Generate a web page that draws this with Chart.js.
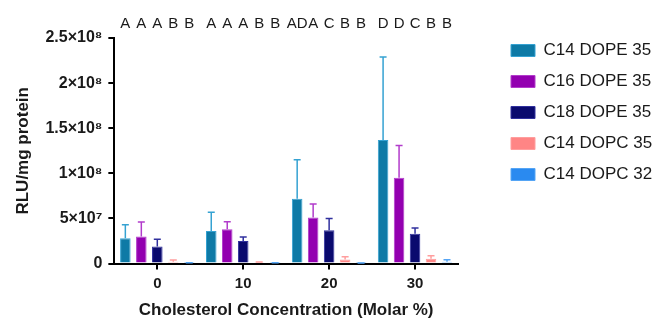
<!DOCTYPE html>
<html>
<head>
<meta charset="utf-8">
<script src="https://cdn.jsdelivr.net/npm/chart.js@4"></script>
<style>
  html, body { margin: 0; padding: 0; background: #fff; }
  #wrap { width: 669px; height: 325px; }
</style>
</head>
<body>
<div id="wrap"><canvas id="myChart" width="669" height="325"></canvas></div>
<script>
'use strict';

// data
let categories = ['0', '10', '20', '30'];
let seriesNames = ['C14 DOPE 35', 'C16 DOPE 35', 'C18 DOPE 35', 'C14 DOPC 35', 'C14 DOPC 32'];
let c14dope35 = [2.8e7, 3.6e7, 7.2e7, 1.37e8];
let c16dope35 = [3.0e7, 3.8e7, 5.1e7, 9.5e7];
let c18dope35 = [1.9e7, 2.5e7, 3.7e7, 3.3e7];
let c14dopc35 = [2.0e6, 1.0e6, 4.5e6, 5.5e6];
let c14dopc32 = [0.6e6, 0.5e6, 0.3e6, 2.0e6];
// upper end of error bars
let c14dope35Err = [4.3e7, 5.7e7, 1.15e8, 2.29e8];
let c16dope35Err = [4.6e7, 4.65e7, 6.6e7, 1.31e8];
let c18dope35Err = [2.7e7, 2.95e7, 5.0e7, 3.95e7];
let c14dopc35Err = [4.0e6, 1.8e6, 7.5e6, 8.8e6];
let c14dopc32Err = [1.0e6, 0.9e6, 0.6e6, 4.2e6];
// significance letters per category, one per series
let letters = [
  ['A', 'A', 'A', 'B', 'B'],
  ['A', 'A', 'A', 'B', 'B'],
  ['AD', 'A', 'C', 'B', 'B'],
  ['D', 'D', 'C', 'B', 'B']
];
let yTicks = [0, 5e7, 1e8, 1.5e8, 2e8, 2.5e8];
let yTickLabels = ['0', '5\u00d710\u2077', '1\u00d710\u2078', '1.5\u00d710\u2078', '2\u00d710\u2078', '2.5\u00d710\u2078'];

let fillColors = ['#0e7aa6', '#9300b0', '#0a0a6e', '#ff8585', '#2a8af0'];
let edgeColors = ['#35a2d2', '#b23ccb', '#30309e', '#ff9e9e', '#55a5f5'];
let allValues = [c14dope35, c16dope35, c18dope35, c14dopc35, c14dopc32];
let allErrors = [c14dope35Err, c16dope35Err, c18dope35Err, c14dopc35Err, c14dopc32Err];

let fontFamily = '"Liberation Sans", Arial, sans-serif';
Chart.defaults.font.family = fontFamily;
Chart.defaults.color = '#1a1a1a';

let datasets = [];
for (let i = 0; i < seriesNames.length; i++) {
  datasets.push({
    label: seriesNames[i],
    data: allValues[i],
    backgroundColor: fillColors[i],
    borderColor: edgeColors[i],
    borderWidth: 1,
    categoryPercentage: 0.93,
    barPercentage: 0.66
  });
}

// error bars drawn from the error arrays through the y scale
let errorBars = {
  id: 'errorBars',
  afterDatasetsDraw(chart) {
    let ctx = chart.ctx;
    let yScale = chart.scales.y;
    ctx.save();
    for (let i = 0; i < allErrors.length; i++) {
      let meta = chart.getDatasetMeta(i);
      ctx.strokeStyle = edgeColors[i];
      ctx.lineWidth = 1.5;
      for (let j = 0; j < meta.data.length; j++) {
        let bar = meta.data[j];
        let yTop = yScale.getPixelForValue(allErrors[i][j]);
        ctx.beginPath();
        ctx.moveTo(bar.x, bar.y);
        ctx.lineTo(bar.x, yTop);
        ctx.moveTo(bar.x - 3.5, yTop);
        ctx.lineTo(bar.x + 3.5, yTop);
        ctx.stroke();
      }
    }
    ctx.restore();
  }
};

// letters above each bar
let letterLabels = {
  id: 'letterLabels',
  afterDraw(chart) {
    let ctx = chart.ctx;
    ctx.save();
    ctx.font = '15px ' + fontFamily;
    ctx.fillStyle = '#1a1a1a';
    ctx.textAlign = 'center';
    ctx.textBaseline = 'middle';
    for (let i = 0; i < seriesNames.length; i++) {
      let meta = chart.getDatasetMeta(i);
      for (let j = 0; j < meta.data.length; j++) {
        ctx.fillText(letters[j][i], meta.data[j].x, 24);
      }
    }
    ctx.restore();
  }
};

// leave a gap between the plot and the legend, and move the legend up
let legendGap = 47;
let legendDx = 39;
let legendDy = -10;
let legendShift = {
  id: 'legendShift',
  beforeInit(chart) {
    let legend = chart.legend;
    let fit = legend.fit;
    legend.fit = function () {
      fit.call(legend);
      legend.width += legendGap;
    };
  },
  afterLayout(chart) {
    chart.legend.left += legendDx;
    chart.legend.right += legendDx;
    chart.legend.top += legendDy;
    chart.legend.bottom += legendDy;
  }
};

let ctx = document.getElementById('myChart').getContext('2d');
let myChart = new Chart(ctx, {
  type: 'bar',
  data: {
    labels: categories,
    datasets: datasets
  },
  options: {
    responsive: false,
    animation: false,
    layout: {
      padding: { top: 38, left: 13, right: 0, bottom: 4 }
    },
    plugins: {
      tooltip: { enabled: false },
      legend: {
        position: 'right',
        align: 'start',
        labels: {
          boxWidth: 24,
          boxHeight: 12,
          padding: 14,
          color: '#1a1a1a',
          font: { size: 17 }
        }
      }
    },
    scales: {
      x: {
        grid: {
          display: true,
          offset: false,
          drawOnChartArea: false,
          drawTicks: true,
          tickLength: 6,
          color: '#000',
          lineWidth: 2
        },
        border: { display: true, color: '#000', width: 2 },
        ticks: {
          color: '#1a1a1a',
          font: { size: 15, weight: 'bold' },
          padding: 5
        },
        title: {
          display: true,
          text: 'Cholesterol Concentration (Molar %)',
          color: '#1a1a1a',
          font: { size: 17, weight: 'bold' },
          padding: { top: 3, bottom: 0 }
        }
      },
      y: {
        min: 0,
        max: 2.5e8,
        afterBuildTicks(scale) {
          scale.ticks = yTicks.map(v => ({ value: v }));
        },
        grid: {
          display: true,
          drawOnChartArea: false,
          drawTicks: true,
          tickLength: 6,
          color: '#000',
          lineWidth: 2
        },
        border: { display: true, color: '#000', width: 2 },
        ticks: {
          color: '#1a1a1a',
          font: { size: 16, weight: 'bold' },
          padding: 6,
          callback: function (value, index) {
            return yTickLabels[index];
          }
        },
        title: {
          display: true,
          text: 'RLU/mg protein',
          color: '#1a1a1a',
          font: { size: 17, weight: 'bold' },
          padding: { top: 0, bottom: 6 }
        }
      }
    }
  },
  plugins: [errorBars, letterLabels, legendShift]
});
</script>
</body>
</html>
